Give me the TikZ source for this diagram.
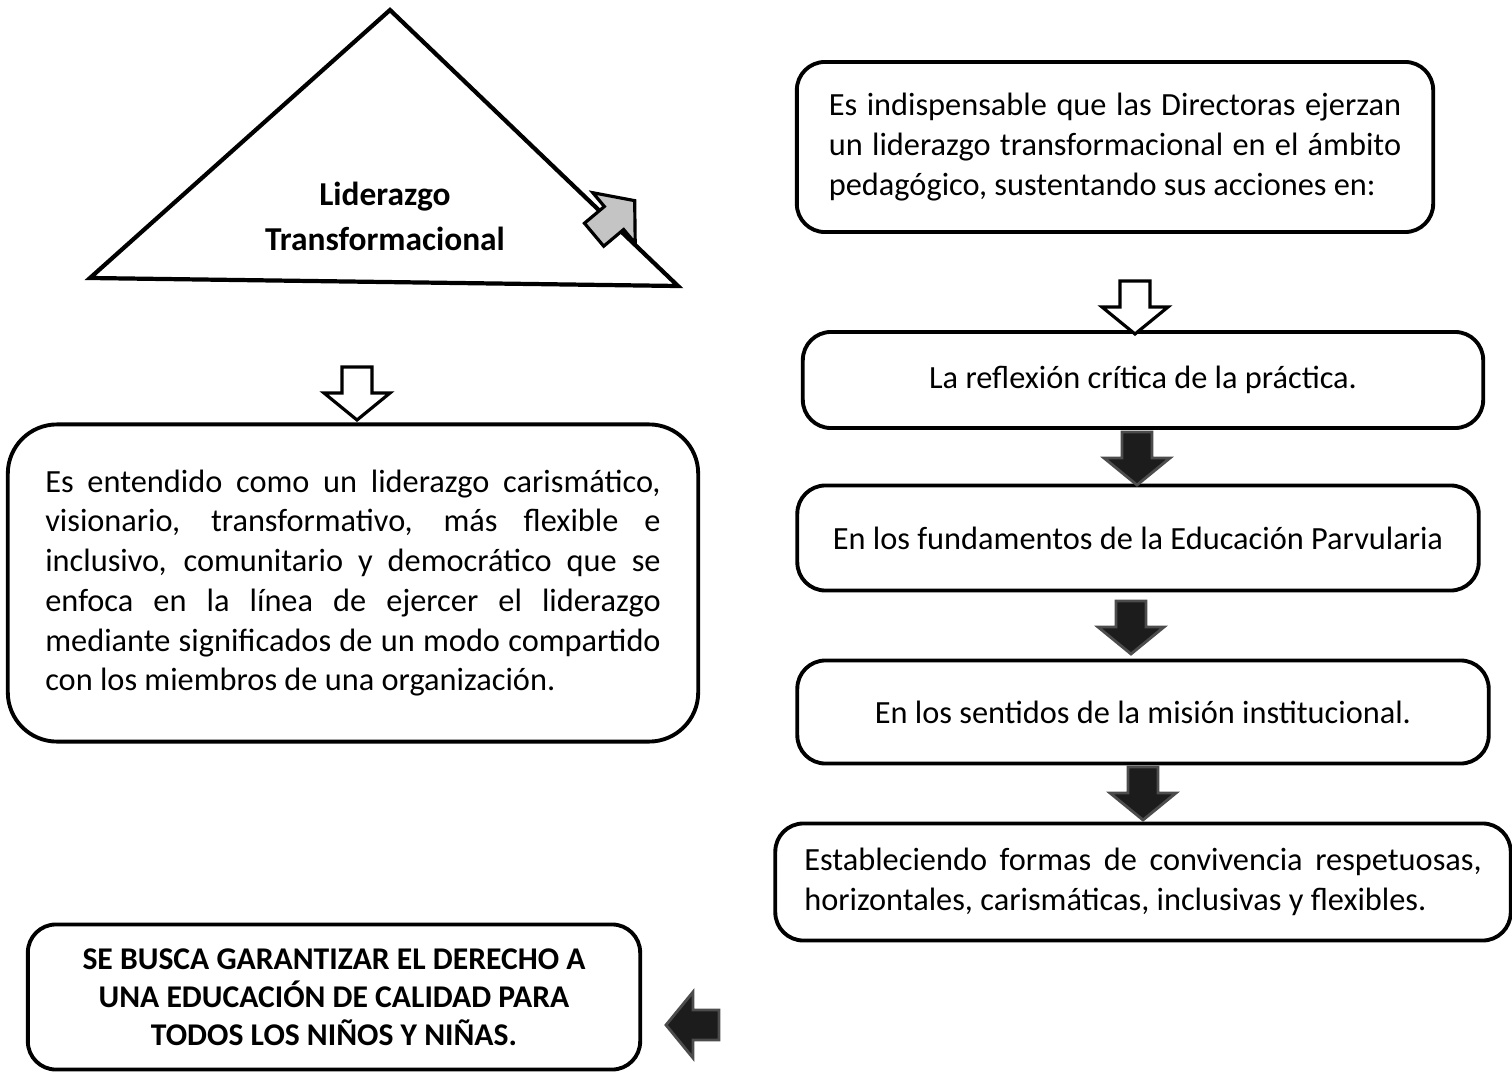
\documentclass[tikz,border=0pt]{standalone}
\usepackage{fontspec}
\setmainfont{Carlito}
\usetikzlibrary{positioning}
\definecolor{Carrowdark}{HTML}{1C1C1C}
\definecolor{Carrowgrey}{HTML}{C4C4C4}

\tikzset{
	textbox/.style={draw,line width=1.1pt,rounded corners=8pt,inner sep=0pt,
		align=center,font=\fontsize{9.2}{11.3}\selectfont},
	boldtext/.style={font=\fontsize{9.5}{10.8}\selectfont\bfseries,align=center},
	whitearrow/.style={draw=black,fill=white,line width=0.9pt,line join=miter},
	darkarrow/.style={draw=black!70,fill=Carrowdark,line width=0.8pt,line join=miter},
	greyarrow/.style={draw=black,fill=Carrowgrey,line width=0.9pt,line join=miter}
}

% block arrow pointing along the given angle
\newcommand{\blockarrow}[3]{%
	\draw[#1,shift={#2},rotate=#3] (-26,-15) -- (0,-15) -- (0,-33) -- (27,0)
		-- (0,33) -- (0,15) -- (-26,15) -- cycle;}

\begin{document}
\begin{tikzpicture}[x=0.01cm,y=-0.01cm]
	\useasboundingbox (0,0) rectangle (1512,1073);
	\draw[line width=1.2pt,line join=miter] (390,10) -- (678,286) -- (90,278) -- cycle;
	\node[boldtext] (title) at (385,216) {Liderazgo\\[2pt]Transformacional};
	\blockarrow{greyarrow}{(614,218)}{40}

	\node[textbox,rounded corners=14pt,align=justify,minimum width=6.9cm,
		minimum height=3.17cm,text width=6.15cm] (defbox) at (353,583)
		{Es entendido como un liderazgo carismático,\linebreak
		visionario, transformativo, más flexible e\linebreak
		inclusivo, comunitario y democrático que se\linebreak
		enfoca en la línea de ejercer el liderazgo\linebreak
		mediante significados de un modo compartido\linebreak
		con los miembros de una organización.};
	\blockarrow{whitearrow}{(357,393)}{-90}

	\node[textbox,align=justify,minimum width=6.36cm,minimum height=1.7cm,
		text width=5.72cm] (introbox) at (1115,147)
		{Es indispensable que las Directoras ejerzan\linebreak
		un liderazgo transformacional en el ámbito\linebreak
		pedagógico, sustentando sus acciones en:};
	\node[textbox,minimum width=6.8cm,minimum height=0.96cm] (reflbox) at (1143,380)
		{La reflexión crítica de la práctica.};
	\node[textbox,minimum width=6.81cm,minimum height=1.05cm] (fundbox) at (1138,538)
		{En los fundamentos de la Educación Parvularia};
	\node[textbox,minimum width=6.91cm,minimum height=1.03cm] (misbox) at (1143,712)
		{En los sentidos de la misión institucional.};
	\node[textbox,align=justify,minimum width=7.35cm,minimum height=1.17cm,
		text width=6.77cm] (convbox) at (1143,882)
		{Estableciendo formas de convivencia respetuosas,\linebreak
		horizontales, carismáticas, inclusivas y flexibles.};
	\blockarrow{whitearrow}{(1135,307)}{-90}
	\foreach \p in {(1137,458),(1131,627),(1143,793)}{
		\blockarrow{darkarrow}{\p}{-90}}

	\node[textbox,boldtext,font=\fontsize{9}{10.8}\selectfont\bfseries,
		minimum width=6.12cm,minimum height=1.45cm] (goalbox) at (334,997)
		{SE BUSCA GARANTIZAR EL DERECHO A\\UNA EDUCACIÓN DE CALIDAD PARA\\TODOS LOS NIÑOS Y NIÑAS.};
	\blockarrow{darkarrow}{(693,1025)}{180}
\end{tikzpicture}
\end{document}
